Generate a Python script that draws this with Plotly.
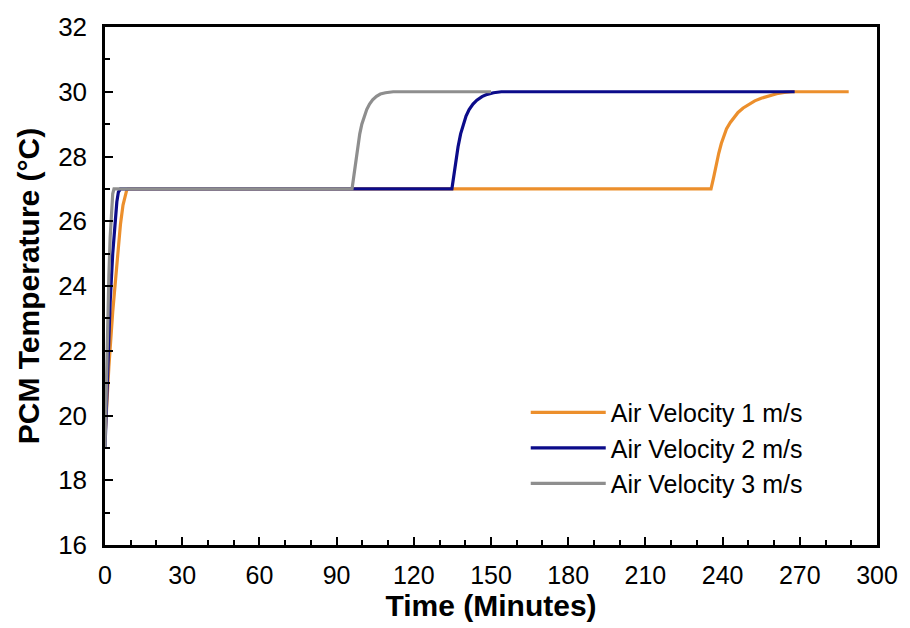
import plotly.graph_objects as go

# Air velocity 1 m/s
t1 = [0, 1.5, 3, 4.5, 6, 7, 7.8, 8.4, 9, 235.5, 236.5, 237.5, 238.5, 239.5, 240.5, 241.5, 243,
      244.5, 246, 248, 250, 252.5, 255, 258, 261, 264, 267, 289]
T1 = [19.3, 21.5, 23.2, 24.7, 25.9, 26.5, 26.8, 26.95, 27, 27, 27.35, 27.75, 28.1, 28.4, 28.65, 28.85, 29.05,
      29.22, 29.36, 29.5, 29.61, 29.72, 29.8, 29.88, 29.94, 29.98, 30, 30]
# Air velocity 2 m/s
t2 = [0, 1, 2, 3, 4, 4.6, 5.2, 6, 134.8, 135.5, 136.3, 137.2, 138.2, 139.2, 140.3, 141.5, 143,
      144.5, 146.5, 148.5, 151, 154, 268]
T2 = [19, 21.5, 23.5, 25, 26.2, 26.6, 26.9, 27, 27, 27.4, 27.85, 28.3, 28.7, 29.0, 29.25, 29.45, 29.62,
      29.74, 29.85, 29.92, 29.97, 30, 30]
# Air velocity 3 m/s
t3 = [0, 0.5, 1, 1.5, 2, 2.5, 3, 3.5, 96, 96.7, 97.4, 98.2, 99, 99.8, 100.7, 101.7, 102.8,
      104, 105.5, 107, 109, 112, 150]
T3 = [19, 21, 22.8, 24.3, 25.5, 26.4, 26.85, 27, 27, 27.4, 27.85, 28.3, 28.7, 29.0, 29.25, 29.45, 29.62,
      29.75, 29.86, 29.93, 29.97, 30, 30]

names = ["Air Velocity 1 m/s", "Air Velocity 2 m/s", "Air Velocity 3 m/s"]
colors = ["#EC8F2C", "#0B0B8A", "#8E8E8E"]

x_ticks = list(range(0, 301, 30))
y_ticks = list(range(16, 33, 2))

fig = go.Figure()
for t, T, n, c in zip([t1, t2, t3], [T1, T2, T3], names, colors):
    fig.add_trace(go.Scatter(x=t, y=T, mode="lines", name=n,
                             line=dict(color=c, width=3.2)))

font_main = "Arial, Liberation Sans, sans-serif"
fig.update_layout(
    width=910, height=628,
    margin=dict(l=105, r=28, t=22, b=82),
    paper_bgcolor="white", plot_bgcolor="white",
    font=dict(family=font_main, color="black", size=25),
    legend=dict(x=0.545, y=0.30, xanchor="left", yanchor="top",
                bgcolor="rgba(0,0,0,0)", font=dict(size=25),
                tracegroupgap=0, itemwidth=75),
    showlegend=True,
)
fig.update_xaxes(
    range=[0, 300], tickvals=x_ticks, ticktext=[str(v) for v in x_ticks],
    ticks="inside", ticklen=8, tickwidth=2, tickcolor="black",
    minor=dict(dtick=10, tick0=0, ticks="inside", ticklen=5, tickwidth=2, tickcolor="black"),
    showline=True, linewidth=2.5, linecolor="black", mirror=True,
    showgrid=False, zeroline=False,
    tickfont=dict(size=25), ticklabelstandoff=6,
    title=dict(text="<b>Time (Minutes)</b>", font=dict(size=30), standoff=6),
)
fig.update_yaxes(
    range=[16, 32], tickvals=y_ticks, ticktext=[str(v) for v in y_ticks],
    ticks="inside", ticklen=8, tickwidth=2, tickcolor="black",
    minor=dict(dtick=1, tick0=16, ticks="inside", ticklen=5, tickwidth=2, tickcolor="black"),
    showline=True, linewidth=2.5, linecolor="black", mirror=True,
    showgrid=False, zeroline=False,
    tickfont=dict(size=26), ticklabelstandoff=10,
    title=dict(text="<b>PCM Temperature (°C)</b>", font=dict(size=30), standoff=10),
)

fig.write_html("out.html")
